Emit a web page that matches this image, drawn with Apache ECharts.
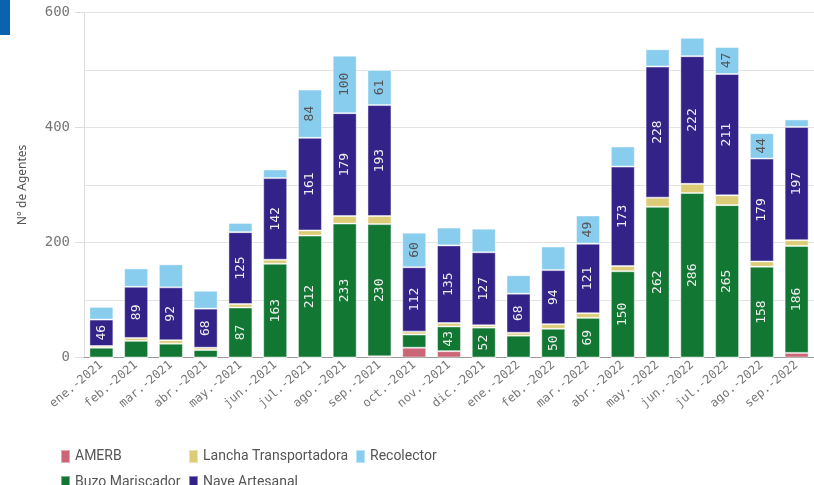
<!DOCTYPE html>
<html>
<head>
<meta charset="utf-8">
<script src="https://cdn.jsdelivr.net/npm/echarts@6/dist/echarts.min.js"></script>
<style>
  html, body { margin: 0; padding: 0; background: #fff; }
  #chart { width: 814px; height: 485px; }
</style>
</head>
<body>
<div id="chart"></div>
<script>
const months = ['ene.-2021', 'feb.-2021', 'mar.-2021', 'abr.-2021', 'may.-2021', 'jun.-2021', 'jul.-2021',
  'ago.-2021', 'sep.-2021', 'oct.-2021', 'nov.-2021', 'dic.-2021', 'ene.-2022', 'feb.-2022', 'mar.-2022',
  'abr.-2022', 'may.-2022', 'jun.-2022', 'jul.-2022', 'ago.-2022', 'sep.-2022']
const amerb = [0, 0, 0, 0, 0, 0, 0, 0, 2, 17, 11, 0, 0, 0, 0, 0, 0, 0, 0, 0, 8]
const buzo = [17, 29, 24, 13, 87, 163, 212, 233, 230, 23, 43, 52, 38, 50, 69, 150, 262, 286, 265, 158, 186]
const lancha = [3, 5, 6, 4, 6, 7, 9, 13, 14, 5, 6, 4, 5, 8, 8, 9, 16, 16, 17, 9, 10]
const nave = [46, 89, 92, 68, 125, 142, 161, 179, 193, 112, 135, 127, 68, 94, 121, 173, 228, 222, 211, 179, 197]
const recolector = [22, 32, 40, 31, 16, 15, 84, 100, 61, 60, 31, 41, 32, 41, 49, 35, 30, 32, 47, 44, 13]
const yTicks = [0, 200, 400, 600]

const mono = '"DejaVu Sans Mono", monospace'
const narrow = 'Roboto, sans-serif'

// only label segments tall enough to hold the number
const labelFmt = (p) => (p.value >= 42 ? String(p.value) : '')

const makeSeries = (name, data, color, labelColor) => ({
  name: name,
  type: 'bar',
  stack: 'total',
  data: data,
  barWidth: 24,
  itemStyle: { color: color, borderColor: 'rgba(255,255,255,0.45)', borderWidth: 1 },
  label: {
    show: !!labelColor,
    position: 'inside',
    rotate: 90,
    formatter: labelFmt,
    color: labelColor,
    fontFamily: mono,
    fontSize: 13
  },
  emphasis: { disabled: true }
})

const legendBase = {
  orient: 'vertical',
  padding: 0,
  height: 60,
  itemWidth: 9,
  itemHeight: 13,
  itemGap: 11,
  icon: 'rect',
  textStyle: { fontFamily: narrow, fontSize: 14, color: '#555' }
}

const chart = echarts.init(document.getElementById('chart'))
chart.setOption({
  animation: false,
  grid: { left: 84, right: 0, top: 12.5, bottom: 127.5 },
  legend: [
    Object.assign({ left: 60, top: 449, data: ['AMERB', 'Buzo Mariscador'] }, legendBase),
    Object.assign({ left: 188, top: 449, data: ['Lancha Transportadora', 'Nave Artesanal'] }, legendBase),
    Object.assign({ left: 355, top: 449, data: ['Recolector'] }, legendBase)
  ],
  xAxis: {
    type: 'category',
    data: months,
    axisLine: { lineStyle: { color: '#999' } },
    axisTick: { show: false },
    axisLabel: {
      rotate: 40,
      interval: 0,
      margin: 6,
      color: '#777',
      fontFamily: mono,
      fontSize: 12
    }
  },
  yAxis: {
    type: 'value',
    min: yTicks[0],
    max: yTicks[yTicks.length - 1],
    interval: 200,
    name: 'N° de Agentes',
    nameLocation: 'middle',
    nameGap: 55,
    nameTextStyle: { color: '#555', fontSize: 12, fontFamily: '"Noto Sans", sans-serif' },
    axisLine: { show: true, lineStyle: { color: '#ddd' } },
    axisTick: { show: true, length: 9, lineStyle: { color: '#ddd' } },
    axisLabel: { color: '#777', fontFamily: mono, fontSize: 14, margin: 14 },
    splitLine: { lineStyle: { color: '#e3e3e3' } },
    minorTick: { show: false, splitNumber: 2 },
    minorSplitLine: { show: true, lineStyle: { color: '#e3e3e3' } }
  },
  graphic: [
    { type: 'rect', left: 0, top: 0, shape: { width: 10, height: 35 }, style: { fill: '#0b62ad' } }
  ],
  series: [
    makeSeries('AMERB', amerb, '#cc6677', null),
    makeSeries('Buzo Mariscador', buzo, '#117733', '#eeeeee'),
    makeSeries('Lancha Transportadora', lancha, '#ddcc77', null),
    makeSeries('Nave Artesanal', nave, '#332288', '#eeeeee'),
    makeSeries('Recolector', recolector, '#88ccee', '#555555')
  ]
})
</script>
</body>
</html>
